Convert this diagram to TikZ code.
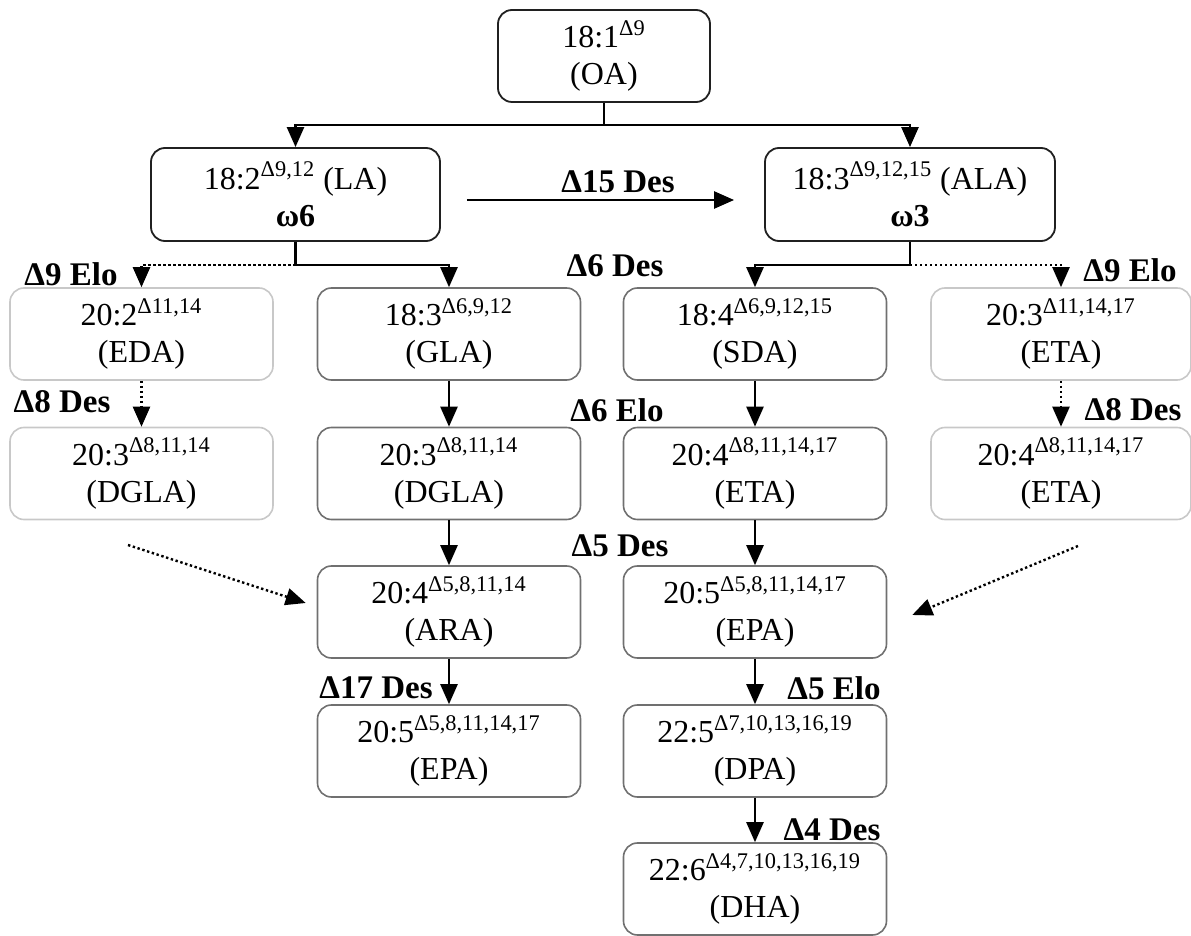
\documentclass[tikz,border=0pt]{standalone}
\usepackage{fontspec}
\setmainfont{Liberation Serif}
\usetikzlibrary{arrows.meta}
\definecolor{edgeA}{HTML}{202020}
\definecolor{edgeB}{HTML}{707070}
\definecolor{edgeC}{HTML}{C8C8C8}
\begin{document}
\begin{tikzpicture}[x=0.5pt,y=-0.5pt,
  box/.style={rectangle,rounded corners=7pt,align=center,inner sep=0pt,
    font=\fontsize{16pt}{18.5pt}\selectfont,minimum height=46pt,minimum width=131.5pt},
  topbox/.style={box,draw=edgeA,line width=0.9pt},
  midbox/.style={box,draw=edgeB,line width=0.8pt},
  sidebox/.style={box,draw=edgeC,line width=0.8pt},
  lbl/.style={font=\fontsize{16.5pt}{19pt}\selectfont\bfseries,inner sep=0pt},
  arr/.style={line width=1.2pt,draw=black,-{Triangle[length=10pt,width=8.5pt]}},
  conn/.style={line width=1.2pt,draw=black},
  dots/.style={line width=1.2pt,dash pattern=on 1.2pt off 1.3pt}
]
\useasboundingbox (0,0) rectangle (1191,936);

% nodes
\node[topbox,minimum width=106pt] (OA) at (604,56) {18:1\textsuperscript{Δ9}\\(OA)};
\node[topbox,minimum width=144.5pt,minimum height=46.5pt] (LA) at (295.5,194.5) {18:2\textsuperscript{Δ9,12} (LA)\\\textbf{ω6}};
\node[topbox,minimum width=145pt,minimum height=46.5pt] (ALA) at (910,194.5) {18:3\textsuperscript{Δ9,12,15} (ALA)\\\textbf{ω3}};

\node[sidebox] (EDA) at (141.5,334) {20:2\textsuperscript{Δ11,14}\\(EDA)};
\node[midbox] (GLA) at (449,334) {18:3\textsuperscript{Δ6,9,12}\\(GLA)};
\node[midbox] (SDA) at (755,334) {18:4\textsuperscript{Δ6,9,12,15}\\(SDA)};
\node[sidebox,minimum width=130pt] (ETAa) at (1061,334) {20:3\textsuperscript{Δ11,14,17}\\(ETA)};

\node[sidebox] (DGLAa) at (141.5,473.5) {20:3\textsuperscript{Δ8,11,14}\\(DGLA)};
\node[midbox] (DGLAb) at (449,473.5) {20:3\textsuperscript{Δ8,11,14}\\(DGLA)};
\node[midbox] (ETAb) at (755,473.5) {20:4\textsuperscript{Δ8,11,14,17}\\(ETA)};
\node[sidebox,minimum width=130pt] (ETAc) at (1061,473.5) {20:4\textsuperscript{Δ8,11,14,17}\\(ETA)};

\node[midbox] (ARA) at (449,612) {20:4\textsuperscript{Δ5,8,11,14}\\(ARA)};
\node[midbox] (EPAa) at (755,612) {20:5\textsuperscript{Δ5,8,11,14,17}\\(EPA)};

\node[midbox] (EPAb) at (449,751) {20:5\textsuperscript{Δ5,8,11,14,17}\\(EPA)};
\node[midbox] (DPA) at (755,751) {22:5\textsuperscript{Δ7,10,13,16,19}\\(DPA)};

\node[midbox] (DHA) at (755,889) {22:6\textsuperscript{Δ4,7,10,13,16,19}\\(DHA)};

% labels
\node[lbl] (l15) at (618,182) {Δ15 Des};
\node[lbl] (l9a) at (71,274) {Δ9 Elo};
\node[lbl] (l6d) at (615,266) {Δ6 Des};
\node[lbl] (l9b) at (1130,270) {Δ9 Elo};
\node[lbl] (l8a) at (62,402) {Δ8 Des};
\node[lbl] (l6e) at (617,410) {Δ6 Elo};
\node[lbl] (l8b) at (1133,410) {Δ8 Des};
\node[lbl] (l5d) at (620,546) {Δ5 Des};
\node[lbl] (l17) at (376,688) {Δ17 Des};
\node[lbl] (l5e) at (834,688) {Δ5 Elo};
\node[lbl] (l4d) at (832,830) {Δ4 Des};

% junctions
\coordinate (j1) at (604,125);
\coordinate (j2) at (295.5,265);
\coordinate (j3) at (910,265);
\coordinate (d1) at (128,545);
\coordinate (d2) at (1078,546);

% connectors
\draw[conn] (OA.south) -- (j1);
\draw[arr] (j1) -| (LA.north);
\draw[arr] (j1) -| (ALA.north);
\draw[arr] ([shift={(13pt,-2.75pt)}]LA.east) -- ([shift={(-15pt,-2.75pt)}]ALA.west);

\draw[conn] (LA.south) -- (j2);
\draw[arr] (j2) -| (GLA.north);
\draw[arr,dots] (j2) -| (EDA.north);
\draw[conn] (ALA.south) -- (j3);
\draw[arr] (j3) -| (SDA.north);
\draw[arr,dots] (j3) -| (ETAa.north);

\draw[arr,dots] (EDA) -- (DGLAa);
\draw[arr] (GLA) -- (DGLAb);
\draw[arr] (SDA) -- (ETAb);
\draw[arr,dots] (ETAa) -- (ETAc);

\draw[arr] (DGLAb) -- (ARA);
\draw[arr] (ETAb) -- (EPAa);
\draw[arr] (ARA) -- (EPAb);
\draw[arr] (EPAa) -- (DPA);
\draw[arr] (DPA) -- (DHA);

\draw[arr,dots] (d1) -- ([shift={(-5.5pt,4.5pt)}]ARA.west);
\draw[arr,dots] (d2) -- ([shift={(12.5pt,-1.5pt)}]EPAa.east);
\end{tikzpicture}
\end{document}
